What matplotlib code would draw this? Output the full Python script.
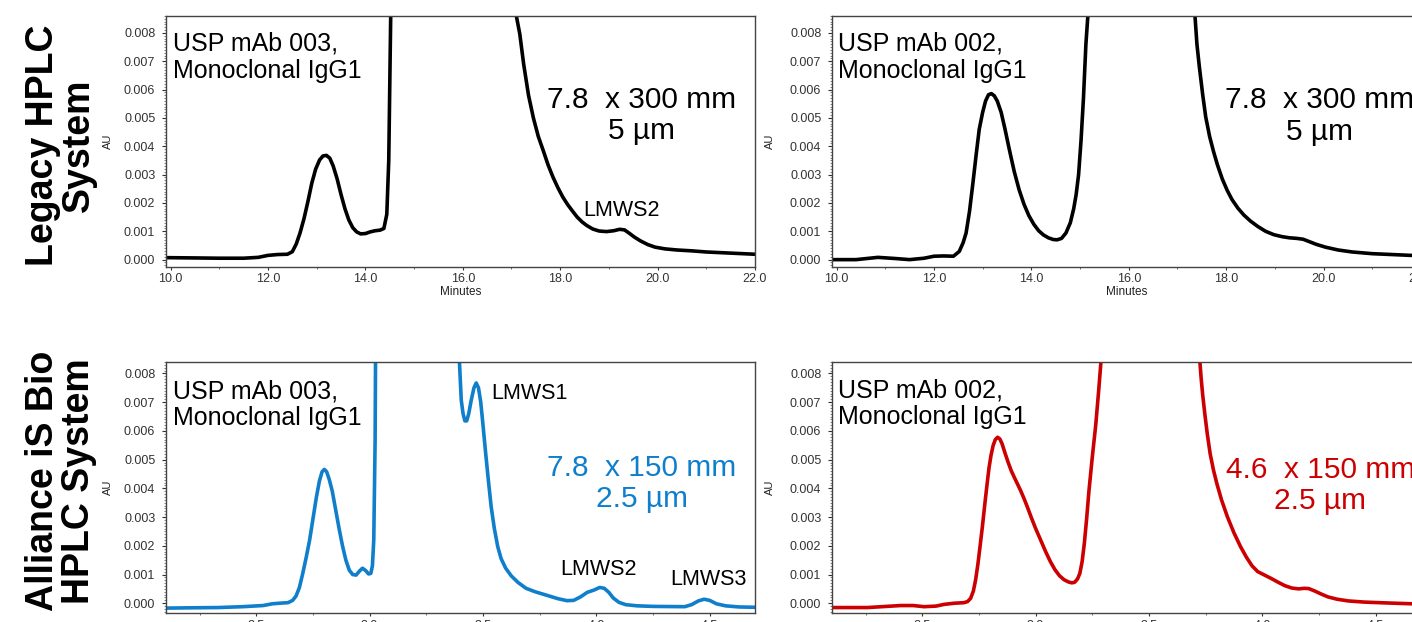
import numpy as np
import matplotlib
matplotlib.use("Agg")
import matplotlib.pyplot as plt
from matplotlib.ticker import MultipleLocator, FormatStrFormatter

plt.rcParams['font.family'] = ['Liberation Sans', 'DejaVu Sans']

# Systeme HPLC classique, USP mAb 003
t_legacy_003 = [9.90, 10.50, 11.00, 11.50, 11.80, 12.00, 12.20, 12.40, 12.50, 12.58,
                12.66, 12.74, 12.82, 12.90, 12.98, 13.06, 13.13, 13.20, 13.27, 13.34,
                13.42, 13.50, 13.58, 13.66, 13.74, 13.82, 13.90, 14.00, 14.10, 14.20,
                14.30, 14.38, 14.44, 14.48, 14.52, 14.56, 15.80, 17.05, 17.10, 17.17,
                17.25, 17.35, 17.45, 17.55, 17.65, 17.75, 17.85, 17.95, 18.05, 18.15,
                18.25, 18.35, 18.45, 18.55, 18.67, 18.80, 18.95, 19.10, 19.22, 19.32,
                19.42, 19.52, 19.65, 19.80, 19.95, 20.15, 20.40, 20.70, 21.00, 21.50,
                22.00]
au_legacy_003 = [0.07, 0.06, 0.05, 0.05, 0.08, 0.15, 0.18, 0.19, 0.28, 0.55,
                 0.95, 1.45, 2.05, 2.70, 3.20, 3.52, 3.66, 3.68, 3.58, 3.30,
                 2.85, 2.30, 1.80, 1.40, 1.13, 0.98, 0.91, 0.92, 0.98, 1.02,
                 1.04, 1.10, 1.60, 3.50, 8.60, 15.0, 300.0, 15.0, 8.60, 7.97,
                 6.90, 5.80, 5.00, 4.35, 3.86, 3.35, 2.92, 2.55, 2.22, 1.95,
                 1.72, 1.50, 1.33, 1.20, 1.08, 1.01, 0.99, 1.02, 1.07, 1.05,
                 0.93, 0.80, 0.66, 0.53, 0.44, 0.38, 0.34, 0.31, 0.27, 0.23,
                 0.19]

# Systeme HPLC classique, USP mAb 002
t_legacy_002 = [9.90, 10.40, 10.85, 11.20, 11.50, 11.80, 12.00, 12.20, 12.40, 12.52,
                12.60, 12.66, 12.73, 12.80, 12.87, 12.93, 13.00, 13.06, 13.12, 13.18,
                13.24, 13.30, 13.38, 13.46, 13.55, 13.65, 13.75, 13.85, 13.95, 14.05,
                14.15, 14.25, 14.35, 14.45, 14.53, 14.62, 14.71, 14.80, 14.87, 14.92,
                14.97, 15.02, 15.07, 15.12, 15.16, 15.20, 16.30, 17.30, 17.36, 17.40,
                17.45, 17.52, 17.58, 17.66, 17.74, 17.82, 17.92, 18.02, 18.12, 18.24,
                18.36, 18.50, 18.65, 18.81, 18.98, 19.15, 19.30, 19.45, 19.58, 19.70,
                19.85, 20.04, 20.30, 20.59, 21.00, 21.40, 21.79, 22.00]
au_legacy_002 = [0.00, 0.00, 0.08, 0.04, 0.00, 0.05, 0.12, 0.13, 0.12, 0.29,
                 0.60, 0.94, 1.70, 2.70, 3.75, 4.60, 5.20, 5.60, 5.82, 5.86,
                 5.78, 5.60, 5.20, 4.60, 3.87, 3.10, 2.46, 1.95, 1.55, 1.25,
                 1.02, 0.87, 0.77, 0.71, 0.70, 0.75, 0.94, 1.30, 1.80, 2.30,
                 3.00, 4.20, 5.70, 7.60, 8.60, 15.0, 300.0, 15.0, 8.60, 7.60,
                 6.80, 5.80, 5.04, 4.35, 3.82, 3.35, 2.85, 2.45, 2.12, 1.82,
                 1.58, 1.36, 1.17, 1.00, 0.88, 0.81, 0.77, 0.75, 0.72, 0.64,
                 0.54, 0.44, 0.34, 0.27, 0.21, 0.18, 0.15, 0.14]

# Alliance iS Bio, USP mAb 003
t_alliance_003 = [2.100, 2.200, 2.330, 2.440, 2.530, 2.570, 2.600, 2.640, 2.660, 2.675,
                  2.690, 2.705, 2.720, 2.735, 2.750, 2.765, 2.778, 2.790, 2.800, 2.810,
                  2.822, 2.835, 2.850, 2.865, 2.880, 2.895, 2.910, 2.925, 2.940, 2.955,
                  2.968, 2.982, 2.995, 3.005, 3.012, 3.018, 3.024, 3.030, 3.200, 3.390,
                  3.396, 3.404, 3.412, 3.420, 3.428, 3.437, 3.448, 3.460, 3.470, 3.480,
                  3.490, 3.500, 3.512, 3.524, 3.536, 3.550, 3.565, 3.580, 3.600, 3.625,
                  3.655, 3.690, 3.730, 3.780, 3.830, 3.870, 3.900, 3.930, 3.960, 3.990,
                  4.015, 4.035, 4.055, 4.075, 4.100, 4.130, 4.180, 4.250, 4.390, 4.420,
                  4.450, 4.475, 4.500, 4.530, 4.570, 4.630, 4.700]
au_alliance_003 = [-0.17, -0.16, -0.15, -0.12, -0.08, -0.02, 0.00, 0.02, 0.10, 0.25,
                   0.55, 1.05, 1.60, 2.20, 2.95, 3.70, 4.25, 4.58, 4.66, 4.58,
                   4.30, 3.90, 3.25, 2.60, 2.00, 1.50, 1.15, 1.00, 0.98, 1.12,
                   1.22, 1.14, 1.02, 1.04, 1.30, 2.20, 5.70, 15.0, 300.0, 15.0,
                   8.40, 7.07, 6.60, 6.35, 6.35, 6.60, 7.07, 7.50, 7.67, 7.50,
                   7.00, 6.20, 5.20, 4.25, 3.36, 2.60, 1.97, 1.55, 1.22, 0.95,
                   0.72, 0.52, 0.40, 0.28, 0.16, 0.09, 0.10, 0.22, 0.38, 0.46,
                   0.55, 0.52, 0.38, 0.18, 0.03, -0.05, -0.09, -0.11, -0.12, -0.05,
                   0.08, 0.14, 0.10, -0.02, -0.09, -0.13, -0.14]

# Alliance iS Bio, USP mAb 002
t_alliance_002 = [2.100, 2.258, 2.405, 2.460, 2.507, 2.560, 2.596, 2.640, 2.684, 2.700,
                  2.713, 2.725, 2.735, 2.745, 2.755, 2.765, 2.775, 2.785, 2.794, 2.803,
                  2.812, 2.822, 2.832, 2.842, 2.852, 2.864, 2.878, 2.892, 2.906, 2.920,
                  2.935, 2.950, 2.963, 2.980, 3.000, 3.022, 3.045, 3.065, 3.085, 3.105,
                  3.125, 3.145, 3.160, 3.172, 3.185, 3.195, 3.205, 3.215, 3.225, 3.235,
                  3.250, 3.265, 3.278, 3.290, 3.300, 3.500, 3.720, 3.725, 3.730, 3.737,
                  3.747, 3.757, 3.770, 3.785, 3.800, 3.820, 3.846, 3.875, 3.904, 3.930,
                  3.955, 3.980, 4.010, 4.040, 4.070, 4.100, 4.130, 4.160, 4.185, 4.205,
                  4.230, 4.260, 4.290, 4.330, 4.380, 4.450, 4.550, 4.700]
au_alliance_002 = [-0.15, -0.15, -0.08, -0.08, -0.12, -0.10, -0.04, 0.00, 0.02, 0.06,
                   0.17, 0.42, 0.81, 1.35, 2.00, 2.67, 3.40, 4.10, 4.70, 5.15,
                   5.48, 5.70, 5.78, 5.72, 5.55, 5.25, 4.92, 4.62, 4.38, 4.15,
                   3.90, 3.62, 3.36, 3.00, 2.60, 2.20, 1.78, 1.45, 1.17, 0.96,
                   0.82, 0.74, 0.71, 0.73, 0.85, 1.04, 1.45, 2.10, 2.95, 3.90,
                   5.10, 6.20, 7.40, 8.60, 15.0, 300.0, 15.0, 8.37, 7.85, 7.25,
                   6.55, 5.91, 5.20, 4.62, 4.15, 3.60, 3.01, 2.45, 1.97, 1.60,
                   1.30, 1.10, 0.98, 0.86, 0.73, 0.61, 0.53, 0.50, 0.52, 0.51,
                   0.43, 0.32, 0.22, 0.14, 0.08, 0.04, 0.01, -0.03]

samples = ["USP mAb 003,\nMonoclonal IgG1", "USP mAb 002,\nMonoclonal IgG1"]
columns = ["7.8  x 300 mm\n5 µm", "7.8  x 300 mm\n5 µm",
           "7.8  x 150 mm\n2.5 µm", "4.6  x 150 mm\n2.5 µm"]
row_titles = ["Legacy HPLC\nSystem", "Alliance iS Bio\nHPLC System"]

noir = "#000000"
bleu = "#0f7fcc"
rouge = "#cc0000"

fig = plt.figure(figsize=(14.12, 6.22), dpi=100)

def prepare_axe(rect, xlim, ylim, xmaj, xmin, xlabel):
    """Cree un axe au style Empower"""
    ax = fig.add_axes(rect)
    ax.set_xlim(*xlim)
    ax.set_ylim(*ylim)
    ax.xaxis.set_major_locator(MultipleLocator(xmaj))
    ax.xaxis.set_minor_locator(MultipleLocator(xmin))
    ax.yaxis.set_major_locator(MultipleLocator(0.001))
    ax.yaxis.set_minor_locator(MultipleLocator(0.0001))
    ax.yaxis.set_major_formatter(FormatStrFormatter('%.3f'))
    ax.xaxis.set_major_formatter(FormatStrFormatter('%.1f'))
    ax.tick_params(axis='y', which='major', length=3, width=0.8, pad=4.5,
                   labelsize=9, colors='#333333')
    ax.tick_params(axis='y', which='minor', length=1.5, width=0.5, colors='#555555')
    ax.tick_params(axis='x', which='major', length=2, width=0.8, pad=2.5,
                   labelsize=9, colors='#333333')
    ax.tick_params(axis='x', which='minor', length=1.5, width=0.6, colors='#555555')
    for sp in ax.spines.values():
        sp.set_color('#444444')
        sp.set_linewidth(1.0)
    ax.set_ylabel("AU", fontsize=8, color='#222222')
    if xlabel:
        ax.set_xlabel("Minutes", fontsize=8.5, color='#222222', labelpad=1)
    return ax

top_ylim = (-0.00025, 0.0086)
bot_ylim = (-0.00035, 0.0084)

ax_tl = prepare_axe([0.11735, 0.5712, 0.41735, 0.4031], (9.9, 22.0), top_ylim, 2.0, 1.0, True)
ax_tr = prepare_axe([0.5890, 0.5712, 0.41735, 0.4031], (9.9, 22.0), top_ylim, 2.0, 1.0, True)
ax_bl = prepare_axe([0.11735, 0.0140, 0.41735, 0.4040], (2.1, 4.70), bot_ylim, 0.5, 0.25, False)
ax_br = prepare_axe([0.5890, 0.0140, 0.41735, 0.4040], (2.1, 4.70), bot_ylim, 0.5, 0.25, False)

for ax in (ax_tl, ax_bl):
    ax.yaxis.set_label_coords(-0.089, 0.5)
for ax in (ax_tr, ax_br):
    ax.yaxis.set_label_coords(-0.096, 0.5)

# Traces
courbes = [(ax_tl, t_legacy_003, au_legacy_003, noir),
           (ax_tr, t_legacy_002, au_legacy_002, noir),
           (ax_bl, t_alliance_003, au_alliance_003, bleu),
           (ax_br, t_alliance_002, au_alliance_002, rouge)]
for ax, t, au, c in courbes:
    ax.plot(t, np.array(au) * 1e-3, color=c, lw=2.6,
            solid_joinstyle='round', solid_capstyle='round')

# Nom de l'echantillon
ax_tl.text(0.0124, 0.937, samples[0], transform=ax_tl.transAxes, fontsize=18,
           va='top', ha='left', linespacing=1.15)
ax_tr.text(0.0113, 0.937, samples[1], transform=ax_tr.transAxes, fontsize=18,
           va='top', ha='left', linespacing=1.15)
ax_bl.text(0.0124, 0.930, samples[0], transform=ax_bl.transAxes, fontsize=18,
           va='top', ha='left', linespacing=1.15)
ax_br.text(0.0113, 0.935, samples[1], transform=ax_br.transAxes, fontsize=18,
           va='top', ha='left', linespacing=1.15)

# Dimensions de colonne
ax_tl.text(0.808, 0.603, columns[0], transform=ax_tl.transAxes, fontsize=21.5,
           ha='center', va='center', multialignment='center', linespacing=1.15, color=noir)
ax_tr.text(0.828, 0.601, columns[1], transform=ax_tr.transAxes, fontsize=21.5,
           ha='center', va='center', multialignment='center', linespacing=1.15, color=noir)
ax_bl.text(0.808, 0.516, columns[2], transform=ax_bl.transAxes, fontsize=21.5,
           ha='center', va='center', multialignment='center', linespacing=1.15, color=bleu)
ax_br.text(0.829, 0.509, columns[3], transform=ax_br.transAxes, fontsize=21.5,
           ha='center', va='center', multialignment='center', linespacing=1.15, color=rouge)

# Reperes des especes de bas poids moleculaire
ax_tl.text(0.774, 0.226, "LMWS2", transform=ax_tl.transAxes, fontsize=15.5,
           ha='center', va='center')
ax_bl.text(0.6165, 0.874, "LMWS1", transform=ax_bl.transAxes, fontsize=15.5,
           ha='center', va='center')
ax_bl.text(0.735, 0.1735, "LMWS2", transform=ax_bl.transAxes, fontsize=15.5,
           ha='center', va='center')
ax_bl.text(0.9216, 0.1325, "LMWS3", transform=ax_bl.transAxes, fontsize=15.5,
           ha='center', va='center')

# Titres des lignes
fig.text(61 / 1412, 1 - 145 / 622, row_titles[0], rotation=90, fontsize=27,
         fontweight='bold', ha='center', va='center', multialignment='center',
         linespacing=1.02)
fig.text(61 / 1412, 1 - 481 / 622, row_titles[1], rotation=90, fontsize=27,
         fontweight='bold', ha='center', va='center', multialignment='center',
         linespacing=1.02)

fig.savefig("out.png", dpi=100)
